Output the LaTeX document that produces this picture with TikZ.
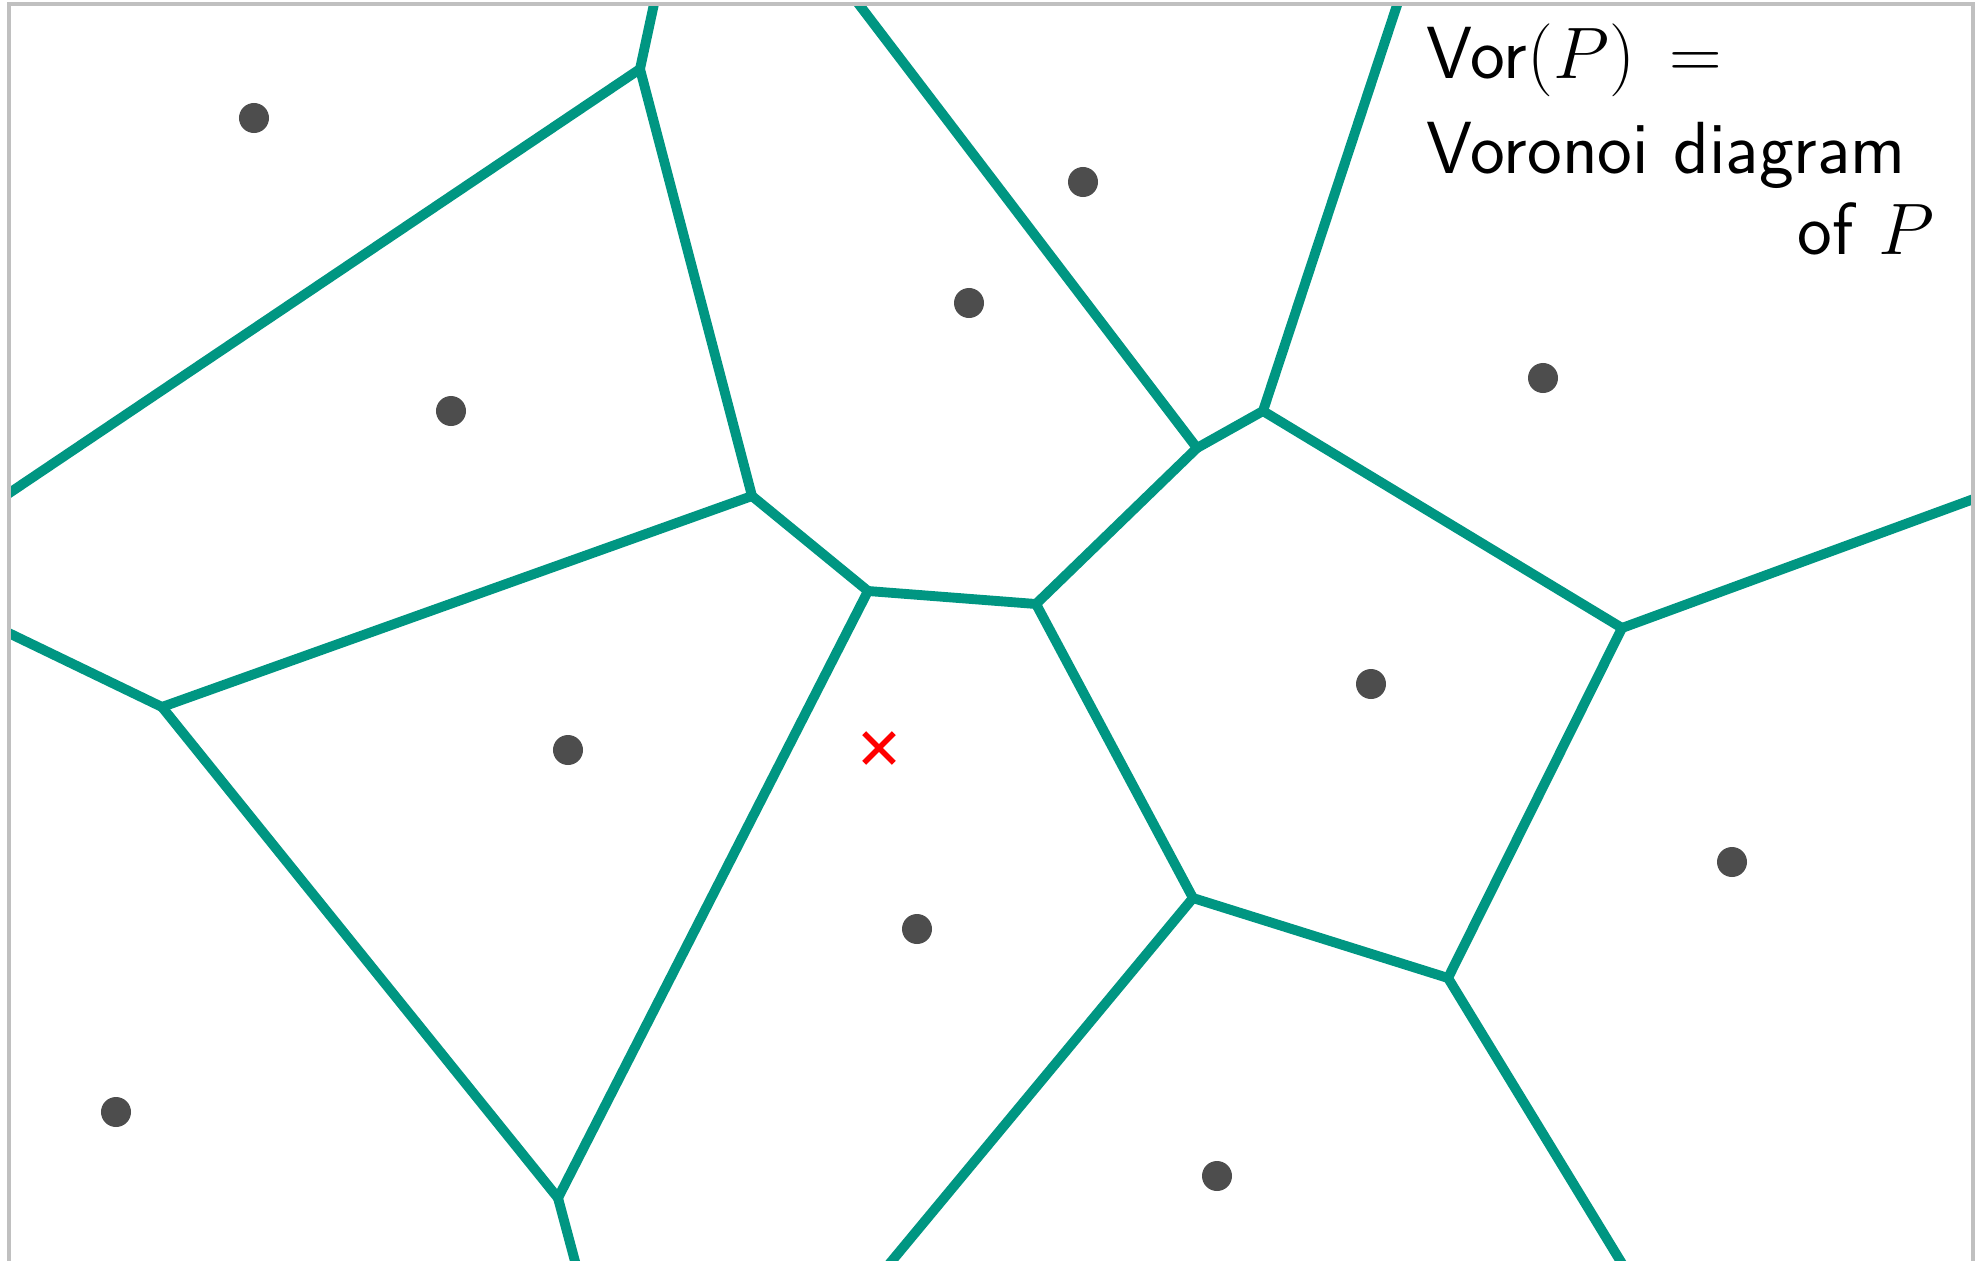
\documentclass[tikz,border=0pt]{standalone}
\usepackage{fontspec}
\usepackage{tikz}
\usetikzlibrary{shapes.misc}
\definecolor{voredge}{RGB}{0,150,130}
\definecolor{sitegray}{RGB}{77,77,77}
\definecolor{framegray}{RGB}{192,192,192}
\tikzset{
  cell/.style={draw=voredge,line width=2.8pt,line cap=round,line join=round},
  site/.style={circle,fill=sitegray,minimum size=3mm,inner sep=0pt},
  query/.style={cross out,draw=red,line width=1.6pt,minimum size=2.4mm,inner sep=0pt},
  frame/.style={draw=framegray,line width=0.9pt},
  caption/.style={font=\sffamily\fontsize{21}{25}\selectfont,align=left,text width=5.07cm,inner sep=0pt}
}

\begin{document}
\begin{tikzpicture}[x=0.01cm,y=-0.01cm]
  \useasboundingbox (0,0) rectangle (1981,1260);
  \coordinate (a) at (640,69);
  \coordinate (b) at (752,496);
  \coordinate (c) at (868,591);
  \coordinate (d) at (1036,604);
  \coordinate (e) at (1197,448);
  \coordinate (f) at (1263,411);
  \coordinate (g) at (1622,628);
  \coordinate (h) at (1448,978);
  \coordinate (i) at (1193,898);
  \coordinate (j) at (162,707);
  \coordinate (k) at (558,1198);
  \coordinate (atop) at (657,-10);
  \coordinate (aleft) at (-10,506);
  \coordinate (jleft) at (-10,624);
  \coordinate (kbot) at (580,1280);
  \coordinate (etop) at (848,-10);
  \coordinate (ftop) at (1402,-10);
  \coordinate (gright) at (1990,493);
  \coordinate (ibot) at (876,1280);
  \coordinate (hbot) at (1632,1280);
  \begin{scope}
    \clip (9,4) rectangle (1973,1290);
    \draw[cell] (a) -- (atop);
    \draw[cell] (a) -- (aleft);
    \draw[cell] (a) -- (b);
    \draw[cell] (b) -- (j);
    \draw[cell] (b) -- (c);
    \draw[cell] (j) -- (jleft);
    \draw[cell] (j) -- (k);
    \draw[cell] (k) -- (c);
    \draw[cell] (k) -- (kbot);
    \draw[cell] (c) -- (d);
    \draw[cell] (d) -- (e);
    \draw[cell] (e) -- (etop);
    \draw[cell] (e) -- (f);
    \draw[cell] (f) -- (ftop);
    \draw[cell] (f) -- (g);
    \draw[cell] (g) -- (gright);
    \draw[cell] (g) -- (h);
    \draw[cell] (h) -- (i);
    \draw[cell] (i) -- (d);
    \draw[cell] (i) -- (ibot);
    \draw[cell] (h) -- (hbot);
  \end{scope}
  \draw[frame] (9,1290) -- (9,4) -- (1973,4) -- (1973,1290);
  \node[site] (p1) at (254,118) {};
  \node[site] (p2) at (451,411) {};
  \node[site] (p3) at (568,750) {};
  \node[site] (p4) at (116,1112) {};
  \node[site] (p5) at (969,303) {};
  \node[site] (p6) at (1083,182) {};
  \node[site] (p7) at (1543,378) {};
  \node[site] (p8) at (1371,684) {};
  \node[site] (p9) at (1732,862) {};
  \node[site] (p10) at (917,929) {};
  \node[site] (p11) at (1217,1176) {};
  \node[query] (q) at (879,748) {};
  \node[caption,anchor=north west] (vor) at (1426,23)
    {Vor$(P)\hspace{4pt} =$\\[2pt] Voronoi diagram\\[-2pt] \hspace*{\fill}of $P$};
\end{tikzpicture}
\end{document}
